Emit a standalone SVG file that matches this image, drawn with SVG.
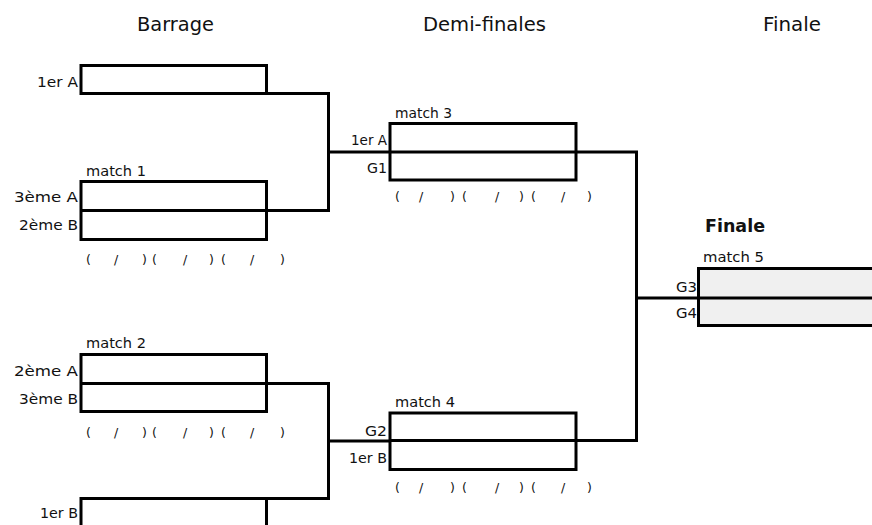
<svg xmlns="http://www.w3.org/2000/svg" width="872" height="525" viewBox="0 0 872 525">
<style>
text{font-family:"DejaVu Sans","Liberation Sans",sans-serif;fill:#111}
.h{font-size:20px;text-anchor:middle}
.l{font-size:14.5px;text-anchor:end}
.m{font-size:14px}
.s{font-size:12.5px}
.fb{font-size:18px;font-weight:bold}
.box{fill:#fff;stroke:#000;stroke-width:3}
.fbox{fill:#f0f0f0;stroke:#000;stroke-width:3}
.c{fill:none;stroke:#000;stroke-width:3}
</style>
<rect width="872" height="525" fill="#fff"/>
<g id="headings">
<text class="h" x="175.5" y="31" textLength="77" lengthAdjust="spacingAndGlyphs">Barrage</text>
<text class="h" x="484.5" y="31" textLength="123" lengthAdjust="spacingAndGlyphs">Demi-finales</text>
<text class="h" x="792" y="31" textLength="58" lengthAdjust="spacingAndGlyphs">Finale</text>
</g>
<g id="connectors">
<path class="c" d="M266.5,93.5H328.5V210.5H266.5"/>
<path class="c" d="M328.5,152H636.5V440.5H390"/>
<path class="c" d="M266.5,383.5H328.5V498.5H266.5"/>
<path class="c" d="M328.5,441H390"/>
<path class="c" d="M636.5,298H698.5"/>
</g>
<g id="seed-1erA">
<rect class="box" x="81" y="65.5" width="185.5" height="28"/>
<text class="l" x="78" y="87" textLength="41" lengthAdjust="spacingAndGlyphs">1er A</text>
</g>
<g id="match1">
<text class="m" x="86" y="176" textLength="60" lengthAdjust="spacingAndGlyphs">match 1</text>
<rect class="box" x="81" y="181.5" width="185.5" height="58"/>
<line class="c" x1="81" y1="210.5" x2="266.5" y2="210.5"/>
<text class="l" x="78" y="202" textLength="64" lengthAdjust="spacingAndGlyphs">3ème A</text>
<text class="l" x="78" y="230" textLength="59" lengthAdjust="spacingAndGlyphs">2ème B</text>
<text class="s" y="264"><tspan x="86">(</tspan><tspan x="114">/</tspan><tspan x="142">)</tspan><tspan x="152">(</tspan><tspan x="183">/</tspan><tspan x="209">)</tspan><tspan x="221">(</tspan><tspan x="250">/</tspan><tspan x="280">)</tspan></text>
</g>
<g id="match2">
<text class="m" x="86" y="348" textLength="60" lengthAdjust="spacingAndGlyphs">match 2</text>
<rect class="box" x="81" y="354.5" width="185.5" height="57"/>
<line class="c" x1="81" y1="383.5" x2="266.5" y2="383.5"/>
<text class="l" x="78" y="376" textLength="64" lengthAdjust="spacingAndGlyphs">2ème A</text>
<text class="l" x="78" y="404" textLength="59" lengthAdjust="spacingAndGlyphs">3ème B</text>
<text class="s" y="437"><tspan x="86">(</tspan><tspan x="114">/</tspan><tspan x="142">)</tspan><tspan x="152">(</tspan><tspan x="183">/</tspan><tspan x="209">)</tspan><tspan x="221">(</tspan><tspan x="250">/</tspan><tspan x="280">)</tspan></text>
</g>
<g id="seed-1erB">
<rect class="box" x="81" y="498.5" width="185.5" height="40"/>
<text class="l" x="78" y="518" textLength="38" lengthAdjust="spacingAndGlyphs">1er B</text>
</g>
<g id="match3">
<text class="m" x="395" y="118" textLength="57" lengthAdjust="spacingAndGlyphs">match 3</text>
<rect class="box" x="390" y="123.5" width="186" height="56.5"/>
<line class="c" x1="390" y1="152" x2="576" y2="152"/>
<text class="l" x="387" y="145" textLength="36" lengthAdjust="spacingAndGlyphs">1er A</text>
<text class="l" x="387" y="173" textLength="20" lengthAdjust="spacingAndGlyphs">G1</text>
<text class="s" y="201"><tspan x="395">(</tspan><tspan x="419">/</tspan><tspan x="450">)</tspan><tspan x="462">(</tspan><tspan x="495">/</tspan><tspan x="519">)</tspan><tspan x="531">(</tspan><tspan x="561">/</tspan><tspan x="587">)</tspan></text>
</g>
<g id="match4">
<text class="m" x="395" y="407" textLength="60" lengthAdjust="spacingAndGlyphs">match 4</text>
<rect class="box" x="390" y="413" width="186" height="56.5"/>
<line class="c" x1="390" y1="440.5" x2="576" y2="440.5"/>
<text class="l" x="387" y="436" textLength="22" lengthAdjust="spacingAndGlyphs">G2</text>
<text class="l" x="387" y="463" textLength="38" lengthAdjust="spacingAndGlyphs">1er B</text>
<text class="s" y="492"><tspan x="395">(</tspan><tspan x="419">/</tspan><tspan x="450">)</tspan><tspan x="462">(</tspan><tspan x="495">/</tspan><tspan x="519">)</tspan><tspan x="531">(</tspan><tspan x="561">/</tspan><tspan x="587">)</tspan></text>
</g>
<g id="match5">
<text class="fb" x="705" y="232" textLength="60" lengthAdjust="spacingAndGlyphs">Finale</text>
<text class="m" x="703" y="262" textLength="61" lengthAdjust="spacingAndGlyphs">match 5</text>
<rect class="fbox" x="698.5" y="268.5" width="190" height="57"/>
<line class="c" x1="698.5" y1="298" x2="880" y2="298"/>
<text class="l" x="697" y="292" textLength="21" lengthAdjust="spacingAndGlyphs">G3</text>
<text class="l" x="697" y="318" textLength="21" lengthAdjust="spacingAndGlyphs">G4</text>
</g>
</svg>
